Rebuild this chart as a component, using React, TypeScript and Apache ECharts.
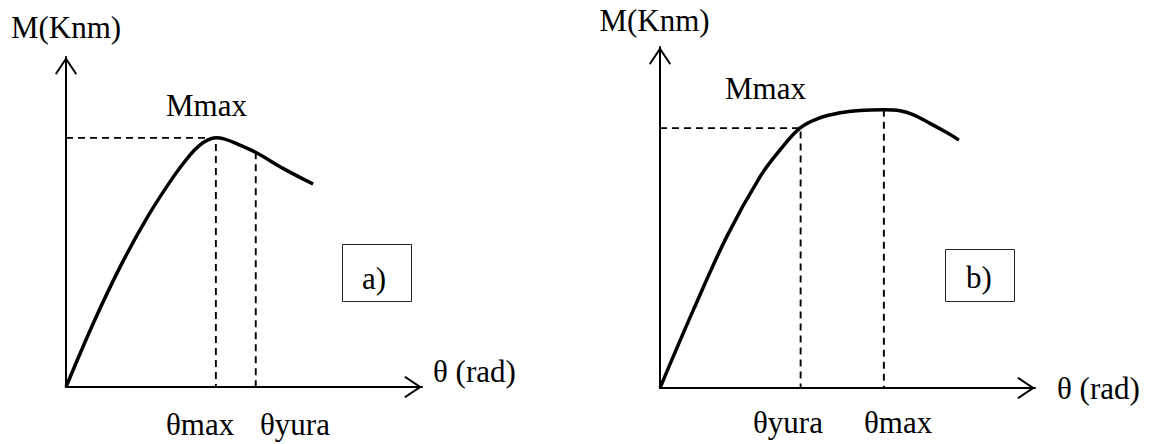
import React, { useEffect, useRef } from 'react';
import * as echarts from 'echarts';

// Curve a): rotation θ (arbitrary units) vs moment M (arbitrary units)
const thetaA = [0, 0.77, 1.52, 2.27, 3.01, 3.48, 3.76, 3.99, 4.21, 4.44, 4.69, 5.31, 6.12, 6.94];
const momentA = [0, 1.94, 3.64, 5.12, 6.36, 7.03, 7.33, 7.49, 7.55, 7.52, 7.42, 7.12, 6.61, 6.15];

// Curve b)
const thetaB = [0, 0.89, 1.78, 2.67, 3.2, 3.73, 4.21, 4.8, 5.33, 5.96, 6.4, 6.76, 7.2, 7.65, 7.97];
const momentB = [0, 2.29, 4.44, 6.2, 6.98, 7.62, 7.9, 8.07, 8.14, 8.16, 8.13, 8.01, 7.76, 7.49, 7.27];

// Characteristic points
const thetaMaxA = 4.21;
const mMaxA = 7.55;
const thetaYuraA = 5.33;
const mYuraA = 7.11;

const thetaYuraB = 3.75;
const mYuraB = 7.62;
const thetaMaxB = 5.97;
const mMaxB = 8.16;

const axisMax = 10;

const yName = 'M(Knm)';
const xName = 'θ (rad)';

const FONT = 'Liberation Serif, Times New Roman, serif';
const ARROW = 'path://M11,0 L22,16.5 L20.5,17.8 L11,3.6 L1.5,17.8 L0,16.5 Z';

const zip = (xs: number[], ys: number[]) => xs.map((x, i) => [x, ys[i]]);

function axisLine() {
  return {
    show: true,
    onZero: false,
    lineStyle: { color: '#000', width: 2 },
    symbol: ['none', ARROW],
    symbolSize: [22, 17.8],
    symbolOffset: [0, -8.9],
  };
}

function xAxis(gridIndex: number, nameGap: number, vAlign: string) {
  return {
    type: 'value',
    gridIndex,
    min: 0,
    max: axisMax,
    axisLine: axisLine(),
    axisTick: { show: false },
    axisLabel: { show: false },
    splitLine: { show: false },
    name: xName,
    nameLocation: 'end',
    nameGap,
    nameTextStyle: {
      fontFamily: FONT,
      fontSize: 31,
      color: '#000',
      align: 'left',
      verticalAlign: vAlign,
    },
  };
}

function yAxis(gridIndex: number, nameGap: number, padRight: number) {
  return {
    type: 'value',
    gridIndex,
    min: 0,
    max: axisMax,
    axisLine: axisLine(),
    axisTick: { show: false },
    axisLabel: { show: false },
    splitLine: { show: false },
    name: yName,
    nameLocation: 'end',
    nameGap,
    nameTextStyle: {
      fontFamily: FONT,
      fontSize: 31,
      color: '#000',
      align: 'center',
      verticalAlign: 'middle',
      padding: [0, padRight, 0, 0],
    },
  };
}

function curve(i: number, data: number[][]) {
  return {
    type: 'line',
    xAxisIndex: i,
    yAxisIndex: i,
    data,
    smooth: 0.35,
    showSymbol: false,
    symbol: 'none',
    silent: true,
    z: 4,
    lineStyle: { color: '#000', width: 3.5 },
  };
}

function guide(i: number, data: number[][]) {
  return {
    type: 'line',
    xAxisIndex: i,
    yAxisIndex: i,
    data,
    smooth: false,
    showSymbol: false,
    symbol: 'none',
    silent: true,
    z: 3,
    lineStyle: { color: '#000', width: 1.9, type: [7, 5] },
  };
}

function label(text: string, x: number, y: number, align = 'left') {
  return {
    type: 'text',
    x,
    y,
    silent: true,
    style: {
      text,
      fontFamily: FONT,
      fontSize: 31,
      fill: '#000',
      align,
      textAlign: align,
      verticalAlign: 'middle',
      textVerticalAlign: 'middle',
    },
  };
}

function box(x: number, y: number, w: number, h: number) {
  return {
    type: 'rect',
    silent: true,
    shape: { x: x + 0.5, y: y + 0.5, width: w, height: h },
    style: { fill: 'rgba(0,0,0,0)', stroke: '#222', lineWidth: 1 },
  };
}

export default function App() {
  const ref = useRef<HTMLDivElement>(null);

  useEffect(() => {
    if (!ref.current) return;
    const chart = echarts.init(ref.current, null, { renderer: 'svg' });
    chart.setOption({
      animation: false,
      backgroundColor: '#fff',
      textStyle: { fontFamily: FONT },
      grid: [
        { left: 66, top: 57, width: 356, height: 330 },
        { left: 660, top: 47, width: 375, height: 341 },
      ],
      xAxis: [xAxis(0, 11, 'bottom'), xAxis(1, 22, 'middle')],
      yAxis: [yAxis(0, 29.5, 0), yAxis(1, 26.5, 11)],
      series: [
        curve(0, zip(thetaA, momentA)),
        guide(0, [[0, mMaxA], [thetaMaxA, mMaxA], [thetaMaxA, 0]]),
        guide(0, [[thetaYuraA, mYuraA], [thetaYuraA, 0]]),
        curve(1, zip(thetaB, momentB)),
        guide(1, [[0, mYuraB], [thetaYuraB, mYuraB], [thetaYuraB, 0]]),
        guide(1, [[thetaMaxB, mMaxB], [thetaMaxB, 0]]),
      ],
      graphic: [
        label('Mmax', 166, 105),
        label('θmax', 166, 424),
        label('θyura', 260, 424),
        box(342, 244, 69, 57),
        label('a)', 374, 278, 'center'),
        label('Mmax', 725, 88),
        label('θyura', 753, 422),
        label('θmax', 864, 422),
        box(945, 249, 69, 52),
        label('b)', 979, 277, 'center'),
      ],
    });
    return () => chart.dispose();
  }, []);

  return (
    <div
      ref={ref}
      style={{ position: 'absolute', left: 0, top: 0, width: 1155, height: 444, background: '#fff' }}
    />
  );
}
